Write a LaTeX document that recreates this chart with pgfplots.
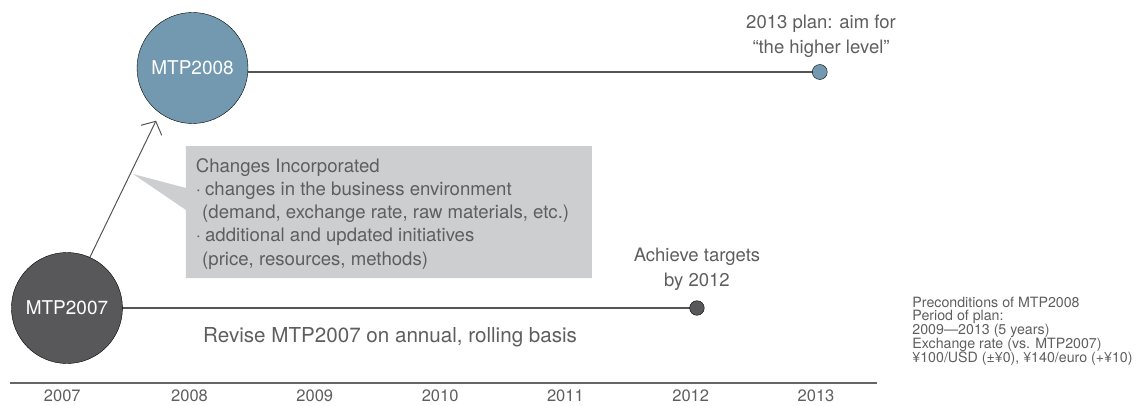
\documentclass[border=0pt]{standalone}
\usepackage{fontspec}
\setmainfont{TeX Gyre Heros}
\usepackage{pgfplots}
\pgfplotsset{compat=1.18}
\usetikzlibrary{arrows.meta}

\definecolor{blueC}{HTML}{7299B0}
\definecolor{darkC}{HTML}{58585A}
\definecolor{boxC}{HTML}{CDCECF}
\definecolor{lineC}{HTML}{555555}
\definecolor{axisC}{HTML}{666666}
\definecolor{txtC}{HTML}{5E5E5E}

\newcommand{\fs}[1]{\fontsize{#1}{#1}\selectfont}

\begin{document}
\begin{tikzpicture}
\useasboundingbox (-10pt,-22pt) rectangle (1132pt,383pt);
\begin{axis}[
  at={(0,0)}, anchor=south west,
  width=867pt, height=383pt, scale only axis,
  xmin=2006.5674, xmax=2013.4868, ymin=0, ymax=383,
  axis x line*=bottom, axis y line=none,
  x axis line style={draw=axisC, line width=1.2pt},
  xtick={2006.985,2008,2009,2010,2011,2012,2013},
  xticklabels={2007,2008,2009,2010,2011,2012,2013},
  major tick length=0pt,
  xticklabel style={font=\fs{16.5}, text=txtC, anchor=base, yshift=-18pt},
  /pgf/number format/assume math mode=true,
  ytick=\empty,
  clip=false,
  every node near coord/.style={anchor=center, text=white, font=\fs{19}, inner sep=0},
]
% timelines
\addplot[lineC, line width=1.2pt] coordinates {(2008.024,311) (2013.03,311)};
\addplot[lineC, line width=1.2pt] coordinates {(2007.022,75) (2012.05,75)};

% plan circles, labelled
\addplot[only marks, mark=*, mark size=55.5pt, mark options={fill=blueC, draw=none},
  nodes near coords={MTP2008}] coordinates {(2008.024,315)};
\addplot[only marks, mark=*, mark size=55.5pt, mark options={fill=darkC, draw=none},
  nodes near coords={MTP2007}] coordinates {(2007.022,75)};

% end dots
\addplot[only marks, mark=*, mark size=7.5pt, mark options={fill=blueC, draw=none}] coordinates {(2013.03,311)};
\addplot[only marks, mark=*, mark size=7.3pt, mark options={fill=darkC, draw=none}] coordinates {(2012.05,75)};

% arrow from MTP2007 to MTP2008
\addplot[lineC, line width=1pt, -{Straight Barb[length=10pt, width=23pt]}] coordinates {(2007.206,126) (2007.733,262.3)};

% callout box
\addplot[fill=boxC, draw=none] coordinates {(2007.972,237) (2011.212,237) (2011.212,105) (2007.972,105) (2007.972,173) (2007.549,209) (2007.972,195)};

% box text
\node[anchor=base west, inner sep=0, text=txtC, font=\fs{18.6}] at (axis cs:2008.049,210.3) {Changes Incorporated};
\node[anchor=base west, inner sep=0, text=txtC, font=\fs{18.6}] at (axis cs:2008.049,188) {\makebox[9.3pt][l]{·}changes in the business environment};
\node[anchor=base west, inner sep=0, text=txtC, font=\fs{18.6}] at (axis cs:2008.1,164.7) {(demand, exchange rate, raw materials, etc.)};
\node[anchor=base west, inner sep=0, text=txtC, font=\fs{18.6}] at (axis cs:2008.049,141.3) {\makebox[9.3pt][l]{·}additional and updated initiatives};
\node[anchor=base west, inner sep=0, text=txtC, font=\fs{18.6}] at (axis cs:2008.1,118) {(price, resources, methods)};

% goal texts
\node[anchor=base, inner sep=0, text=txtC, font=\fs{18.5}] at (axis cs:2013.04,354) {2013 plan: aim for};
\node[anchor=base, inner sep=0, text=txtC, font=\fs{18.5}] at (axis cs:2013.04,329) {``the higher level''};
\node[anchor=base, inner sep=0, text=txtC, font=\fs{18.5}] at (axis cs:2012.05,121.3) {Achieve targets};
\node[anchor=base, inner sep=0, text=txtC, font=\fs{18.5}] at (axis cs:2012.05,96.3) {by 2012};

\node[anchor=base west, inner sep=0, text=txtC, font=\fs{20.6}] at (axis cs:2008.108,41) {Revise MTP2007 on annual, rolling basis};

% preconditions
\node[anchor=base west, inner sep=0, text=txtC, font=\fs{14.2}] at (axis cs:2013.768,75.7) {Preconditions of MTP2008};
\node[anchor=base west, inner sep=0, text=txtC, font=\fs{14.2}] at (axis cs:2013.768,62.3) {Period of plan:};
\node[anchor=base west, inner sep=0, text=txtC, font=\fs{14.2}] at (axis cs:2013.768,48.3) {2009—2013 (5 years)};
\node[anchor=base west, inner sep=0, text=txtC, font=\fs{14.2}] at (axis cs:2013.768,34.7) {Exchange rate (vs. MTP2007)};
\node[anchor=base west, inner sep=0, text=txtC, font=\fs{14.2}] at (axis cs:2013.768,21) {¥100/USD (±¥0), ¥140/euro (+¥10)};
\end{axis}
\end{tikzpicture}
\end{document}
